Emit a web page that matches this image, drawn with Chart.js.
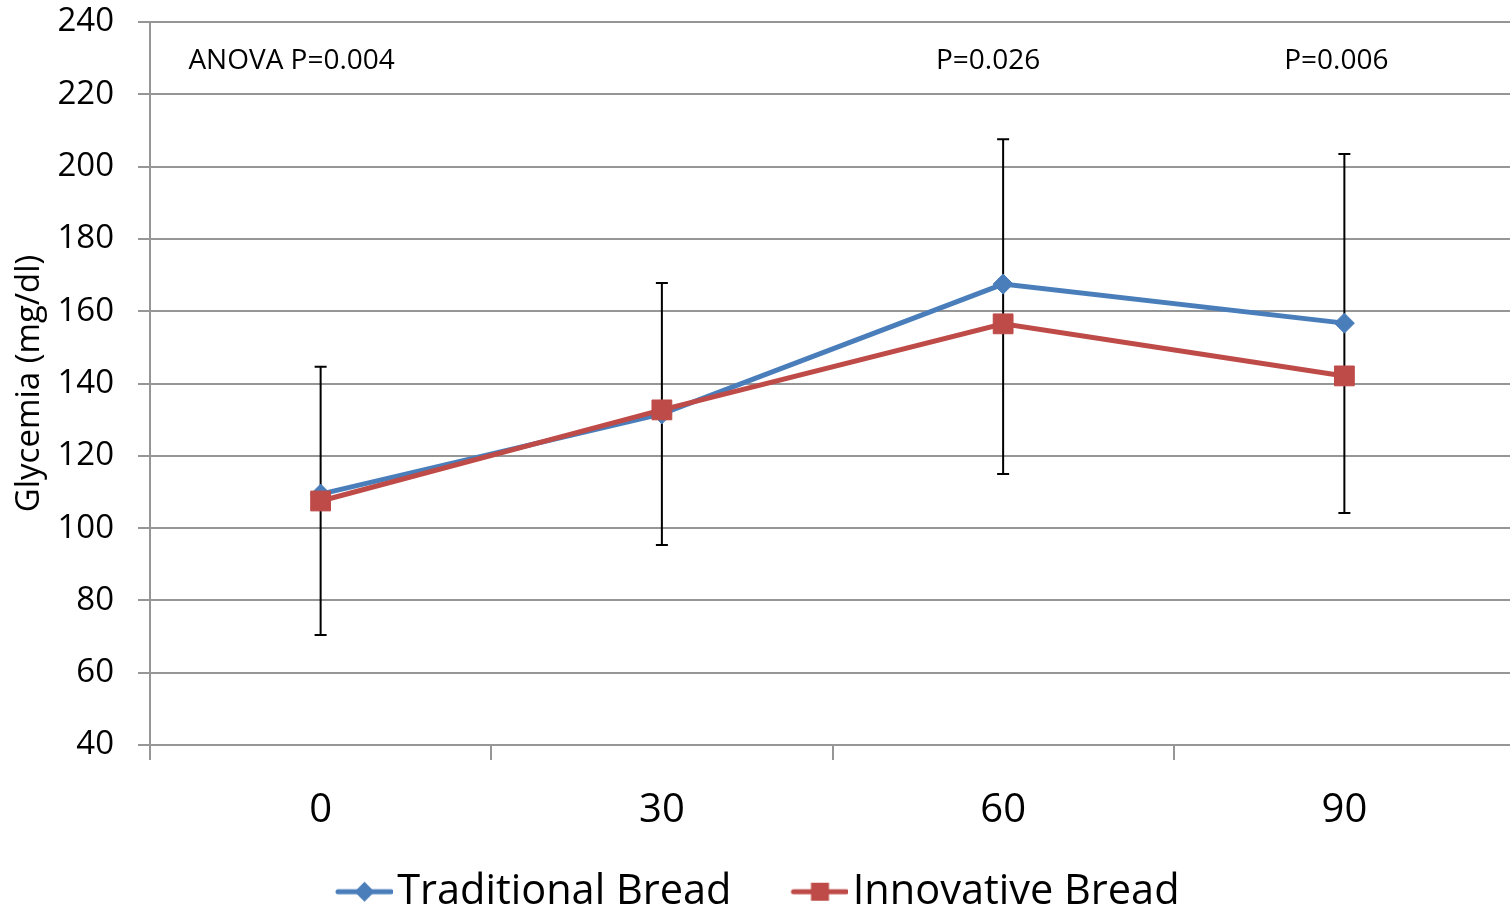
<!DOCTYPE html>
<html><head><meta charset="utf-8">
<script src="https://cdn.jsdelivr.net/npm/chart.js@4.4.1/dist/chart.umd.min.js"></script>
<style>html,body{margin:0;padding:0;background:#fff}canvas{display:block}</style>
</head><body><canvas id="c" width="1510" height="909"></canvas>
<script>
// ---- data ----
const categories = ['0', '30', '60', '90'];
const traditionalBread = [109.4, 131.6, 167.5, 156.7];
const innovativeBread = [107.5, 132.7, 156.5, 142.1];
const errorTop = [144.6, 167.8, 207.6, 203.5];
const errorBottom = [70.4, 95.3, 115.0, 104.2];
const yMin = 40, yMax = 240, yStep = 20;
const pLabels = ['ANOVA P=0.004', 'P=0.026', 'P=0.006'];
const pLabelCategory = [0, 2, 3];
const pLabelValue = 229.2;

// ---- styles ----
const FONT = "'Open Sans', 'Noto Sans', sans-serif";
const BLUE = '#4A7EBB', RED = '#BE4B48', GRID = '#969696';
const pLabelShift = [-29, -15, -8];
const PLOT_OVERHANG = 5;

function legendIcon(color, shape) {
  const c = document.createElement('canvas');
  c.width = 79; c.height = 30;
  const g = c.getContext('2d');
  g.strokeStyle = color; g.lineWidth = 5; g.lineCap = 'round';
  g.beginPath(); g.moveTo(24, 15); g.lineTo(77, 15); g.stroke();
  g.fillStyle = color;
  const cx = 50.5, cy = 15;
  g.beginPath();
  if (shape === 'diamond') {
    g.moveTo(cx - 10, cy); g.lineTo(cx, cy - 10); g.lineTo(cx + 10, cy); g.lineTo(cx, cy + 10);
  } else {
    g.rect(cx - 9, cy - 9, 18, 18);
  }
  g.closePath(); g.fill();
  return c;
}
const icons = [legendIcon(BLUE, 'diamond'), legendIcon(RED, 'square')];

const errorBarPlugin = {
  id: 'errorBars',
  afterLayout(chart) {
    const x = chart.scales.x;
    x.bottom = chart.height;
    x.right += PLOT_OVERHANG; x.width += PLOT_OVERHANG;
    chart.chartArea.right += PLOT_OVERHANG; chart.chartArea.width += PLOT_OVERHANG;
    x.configure();
  },
  beforeDatasetsDraw(chart) {
    const {ctx, scales: {x, y}} = chart;
    ctx.save();
    ctx.strokeStyle = '#000'; ctx.lineWidth = 2;
    categories.forEach((_, i) => {
      const px = x.getPixelForValue(i);
      const t = y.getPixelForValue(errorTop[i]);
      const b = y.getPixelForValue(errorBottom[i]);
      ctx.beginPath();
      ctx.moveTo(px, t); ctx.lineTo(px, b);
      ctx.moveTo(px - 6, t); ctx.lineTo(px + 6, t);
      ctx.moveTo(px - 6, b); ctx.lineTo(px + 6, b);
      ctx.stroke();
    });
    ctx.restore();
  }
};

const pLabelPlugin = {
  id: 'pLabels',
  afterDraw(chart) {
    const {ctx, scales: {x, y}} = chart;
    ctx.save();
    ctx.font = '28px ' + FONT;
    ctx.fillStyle = '#000';
    ctx.textAlign = 'center'; ctx.textBaseline = 'middle';
    pLabels.forEach((t, i) => {
      ctx.fillText(t, x.getPixelForValue(pLabelCategory[i]) + pLabelShift[i], y.getPixelForValue(pLabelValue));
    });
    ctx.restore();
  }
};

new Chart(document.getElementById('c'), {
  type: 'line',
  data: {
    labels: categories,
    datasets: [
      { label: 'Traditional Bread', data: traditionalBread, borderColor: BLUE, backgroundColor: BLUE,
        borderWidth: 5, pointStyle: 'rectRot', pointRadius: 10, pointBorderWidth: 1, order: 1 },
      { label: 'Innovative Bread', data: innovativeBread, borderColor: RED, backgroundColor: RED,
        borderWidth: 5, pointStyle: 'rect', pointRadius: 14, pointBorderWidth: 1, order: 0 }
    ]
  },
  options: {
    responsive: false, animation: false,
    layout: { autoPadding: false, padding: { top: 22, right: 0, left: 0, bottom: 0 } },
    plugins: {
      tooltip: { enabled: false },
      legend: {
        position: 'bottom', maxHeight: 92.5,
        labels: {
          usePointStyle: true, pointStyleWidth: 46, padding: 54.5, color: '#000',
          font: { family: FONT, size: 41.5 },
          sort: (a, b) => a.datasetIndex - b.datasetIndex,
          generateLabels(chart) {
            const items = Chart.defaults.plugins.legend.labels.generateLabels(chart);
            items.forEach(it => { it.pointStyle = icons[it.datasetIndex]; });
            return items;
          }
        }
      }
    },
    scales: {
      x: {
        offset: true,
        grid: { offset: true, drawOnChartArea: false, drawTicks: true, tickLength: 15, color: GRID, lineWidth: 2 },
        border: { color: GRID, width: 2 },
        ticks: { color: '#000', font: { family: FONT, size: 40 }, padding: 27, maxRotation: 0 },
        afterFit(s) { s.height = 71.5; s.paddingLeft = 0; s.paddingRight = 0; }
      },
      y: {
        min: yMin, max: yMax,
        ticks: { stepSize: yStep, color: '#000', font: { family: FONT, size: 33 }, padding: 24 },
        grid: { color: GRID, lineWidth: 2, tickLength: 12 },
        border: { color: GRID, width: 2 },
        title: { display: true, text: 'Glycemia (mg/dl)', color: '#000', font: { family: FONT, size: 33 }, padding: { top: 10, bottom: 0 } },
        afterFit(s) { s.width = 150; s.paddingTop = 0; s.paddingBottom = 0; }
      }
    }
  },
  plugins: [errorBarPlugin, pLabelPlugin]
});
</script>
</body></html>
